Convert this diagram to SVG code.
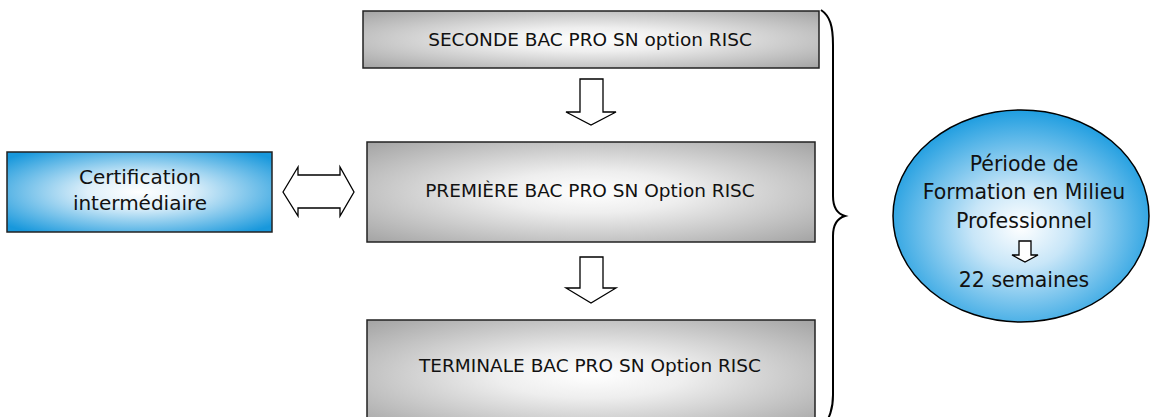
<svg xmlns="http://www.w3.org/2000/svg" width="1150" height="417" viewBox="0 0 1150 417">
<style>
.box{stroke:#222;stroke-width:1.5}
.t{font-family:"DejaVu Sans",Verdana,sans-serif;fill:#111;text-anchor:middle}
.arr{fill:#fff;stroke:#000;stroke-width:1.3;stroke-linejoin:miter}
</style>
<defs>
<radialGradient id="gray" cx="50%" cy="50%" r="70%">
<stop offset="0" stop-color="#ffffff"/>
<stop offset="0.3" stop-color="#eeeeee"/>
<stop offset="1" stop-color="#a4a4a4"/>
</radialGradient>
<radialGradient id="blue" cx="50%" cy="50%" r="65%">
<stop offset="0" stop-color="#ffffff"/>
<stop offset="0.3" stop-color="#dff0fa"/>
<stop offset="1" stop-color="#1898dc"/>
</radialGradient>
<radialGradient id="blueE" cx="50%" cy="55%" r="55%">
<stop offset="0" stop-color="#ffffff"/>
<stop offset="0.35" stop-color="#c8e6f8"/>
<stop offset="1" stop-color="#1e9de0"/>
</radialGradient>
</defs>
<g id="seconde">
<rect class="box" x="363" y="11" width="456" height="57" fill="url(#gray)"/>
<text class="t" x="590" y="46" font-size="18.5">SECONDE BAC PRO SN option RISC</text>
</g>
<g id="premiere">
<rect class="box" x="367" y="142" width="448" height="100" fill="url(#gray)"/>
<text class="t" x="590" y="197" font-size="18.5">PREMIÈRE BAC PRO SN Option RISC</text>
</g>
<g id="terminale">
<rect class="box" x="367" y="320" width="448" height="110" fill="url(#gray)"/>
<text class="t" x="590" y="372" font-size="18.5">TERMINALE BAC PRO SN Option RISC</text>
</g>
<g id="certification">
<rect class="box" x="7" y="152" width="265" height="80" fill="url(#blue)"/>
<text class="t" x="140" y="184" font-size="20">Certification</text>
<text class="t" x="140" y="210" font-size="20">intermédiaire</text>
</g>
<g id="pfmp">
<ellipse cx="1021" cy="216" rx="128" ry="106" fill="url(#blueE)" stroke="#000" stroke-width="1.5"/>
<text class="t" x="1024" y="171" font-size="20.5">Période de</text>
<text class="t" x="1024" y="199" font-size="20.5">Formation en Milieu</text>
<text class="t" x="1024" y="228" font-size="20.5">Professionnel</text>
<path class="arr" d="M1019,241 H1031 V255 H1038 L1025,262 L1012,255 H1019 Z"/>
<text class="t" x="1024" y="287" font-size="20.5">22 semaines</text>
</g>
<g id="connectors">
<path class="arr" d="M580,79 H603 V112 H616 L591,125 L566,112 H580 Z"/>
<path class="arr" d="M580,257 H603 V288 H616 L591,303 L566,288 H580 Z"/>
<path class="arr" d="M283,192 L298,167 V175 H340 V167 L354,192 L340,216 V208 H298 V216 Z"/>
<path d="M821,10 C830,16 833,26 833,45 V196 C833,208 838,214 845,216 C838,218 833,224 833,236 V395 C833,410 829,418 824,426" fill="none" stroke="#000" stroke-width="2"/>
</g>
</svg>
